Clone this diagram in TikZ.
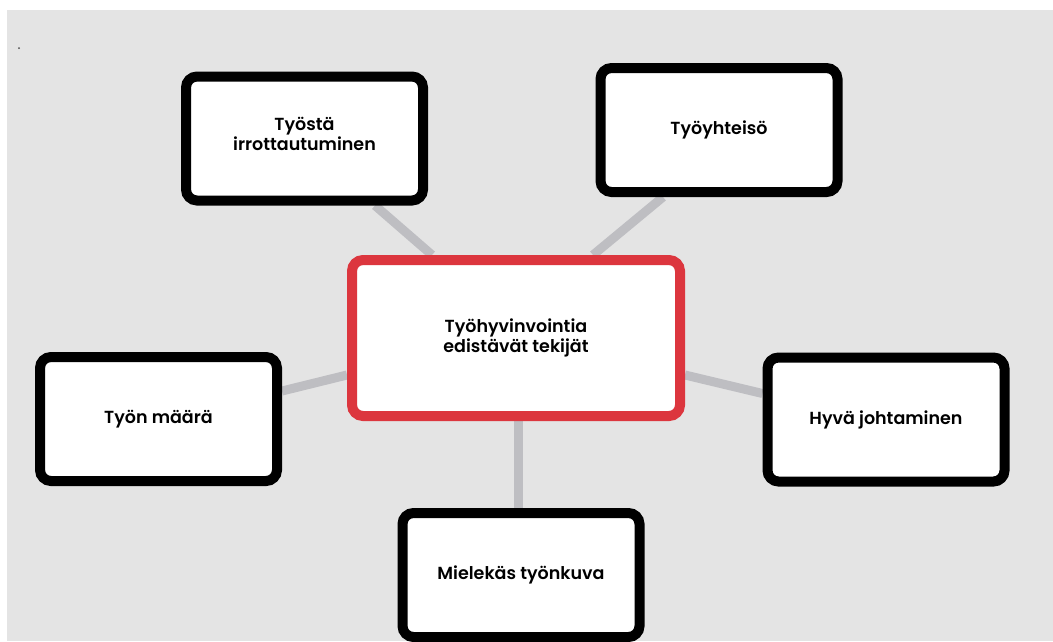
\documentclass[tikz,border=0pt]{standalone}
\usepackage{fontspec}
\setmainfont{Poppins SemiBold}
\usetikzlibrary{calc}
\pgfdeclarelayer{bg}
\pgfdeclarelayer{lines}
\pgfsetlayers{bg,lines,main}
\definecolor{bggrey}{RGB}{228,228,228}
\definecolor{linkgrey}{RGB}{190,190,194}
\definecolor{boxred}{RGB}{220,54,62}
\tikzset{
  box/.style={draw=black, line width=10pt, fill=white, rounded corners=11pt,
    minimum width=237pt, minimum height=124pt, inner sep=0pt, align=center,
    font=\fontsize{17.5}{19.5}\selectfont},
  centerbox/.style={box, draw=boxred, minimum width=328pt, minimum height=156pt},
  link/.style={draw=linkgrey, line width=9pt}
}
\begin{document}
\begin{tikzpicture}[x=1pt,y=-1pt]
\useasboundingbox (0,0) rectangle (1053,641);
\begin{pgfonlayer}{bg}
  \fill[white] (0,0) rectangle (1053,641);
  \fill[bggrey] (7,10) rectangle (1053,641);
  \fill[black!70] (19,48) circle (1pt);
\end{pgfonlayer}
\node[centerbox] (c) at (516,338) {Työhyvinvointia\\edistävät tekijät};
\node[box] (t1) at (304.5,138.5) {Työstä\\irrottautuminen\\[-10pt]};
\node[box] (t2) at (719,130) {Työyhteisö};
\node[box] (t3) at (158.5,419) {Työn määrä};
\node[box] (t4) at (886,419.5) {Hyvä johtaminen};
\node[box] (t5) at (521,575) {Mielekäs työnkuva};
\begin{pgfonlayer}{lines}
  \draw[link] ($(t1.south)+(70.5,0)$) -- ($(c.north)+(-84,0)$);
  \draw[link] ($(t2.south)+(-56,0)$) -- ($(c.north)+(77,0)$);
  \draw[link] ($(t3.east)+(0,-28)$) -- ($(c.west)+(0,37)$);
  \draw[link] ($(t4.west)+(0,-26)$) -- ($(c.east)+(0,37)$);
  \draw[link] ($(c.south)+(2,0)$) -- ($(t5.north)+(-3,0)$);
\end{pgfonlayer}
\end{tikzpicture}
\end{document}
